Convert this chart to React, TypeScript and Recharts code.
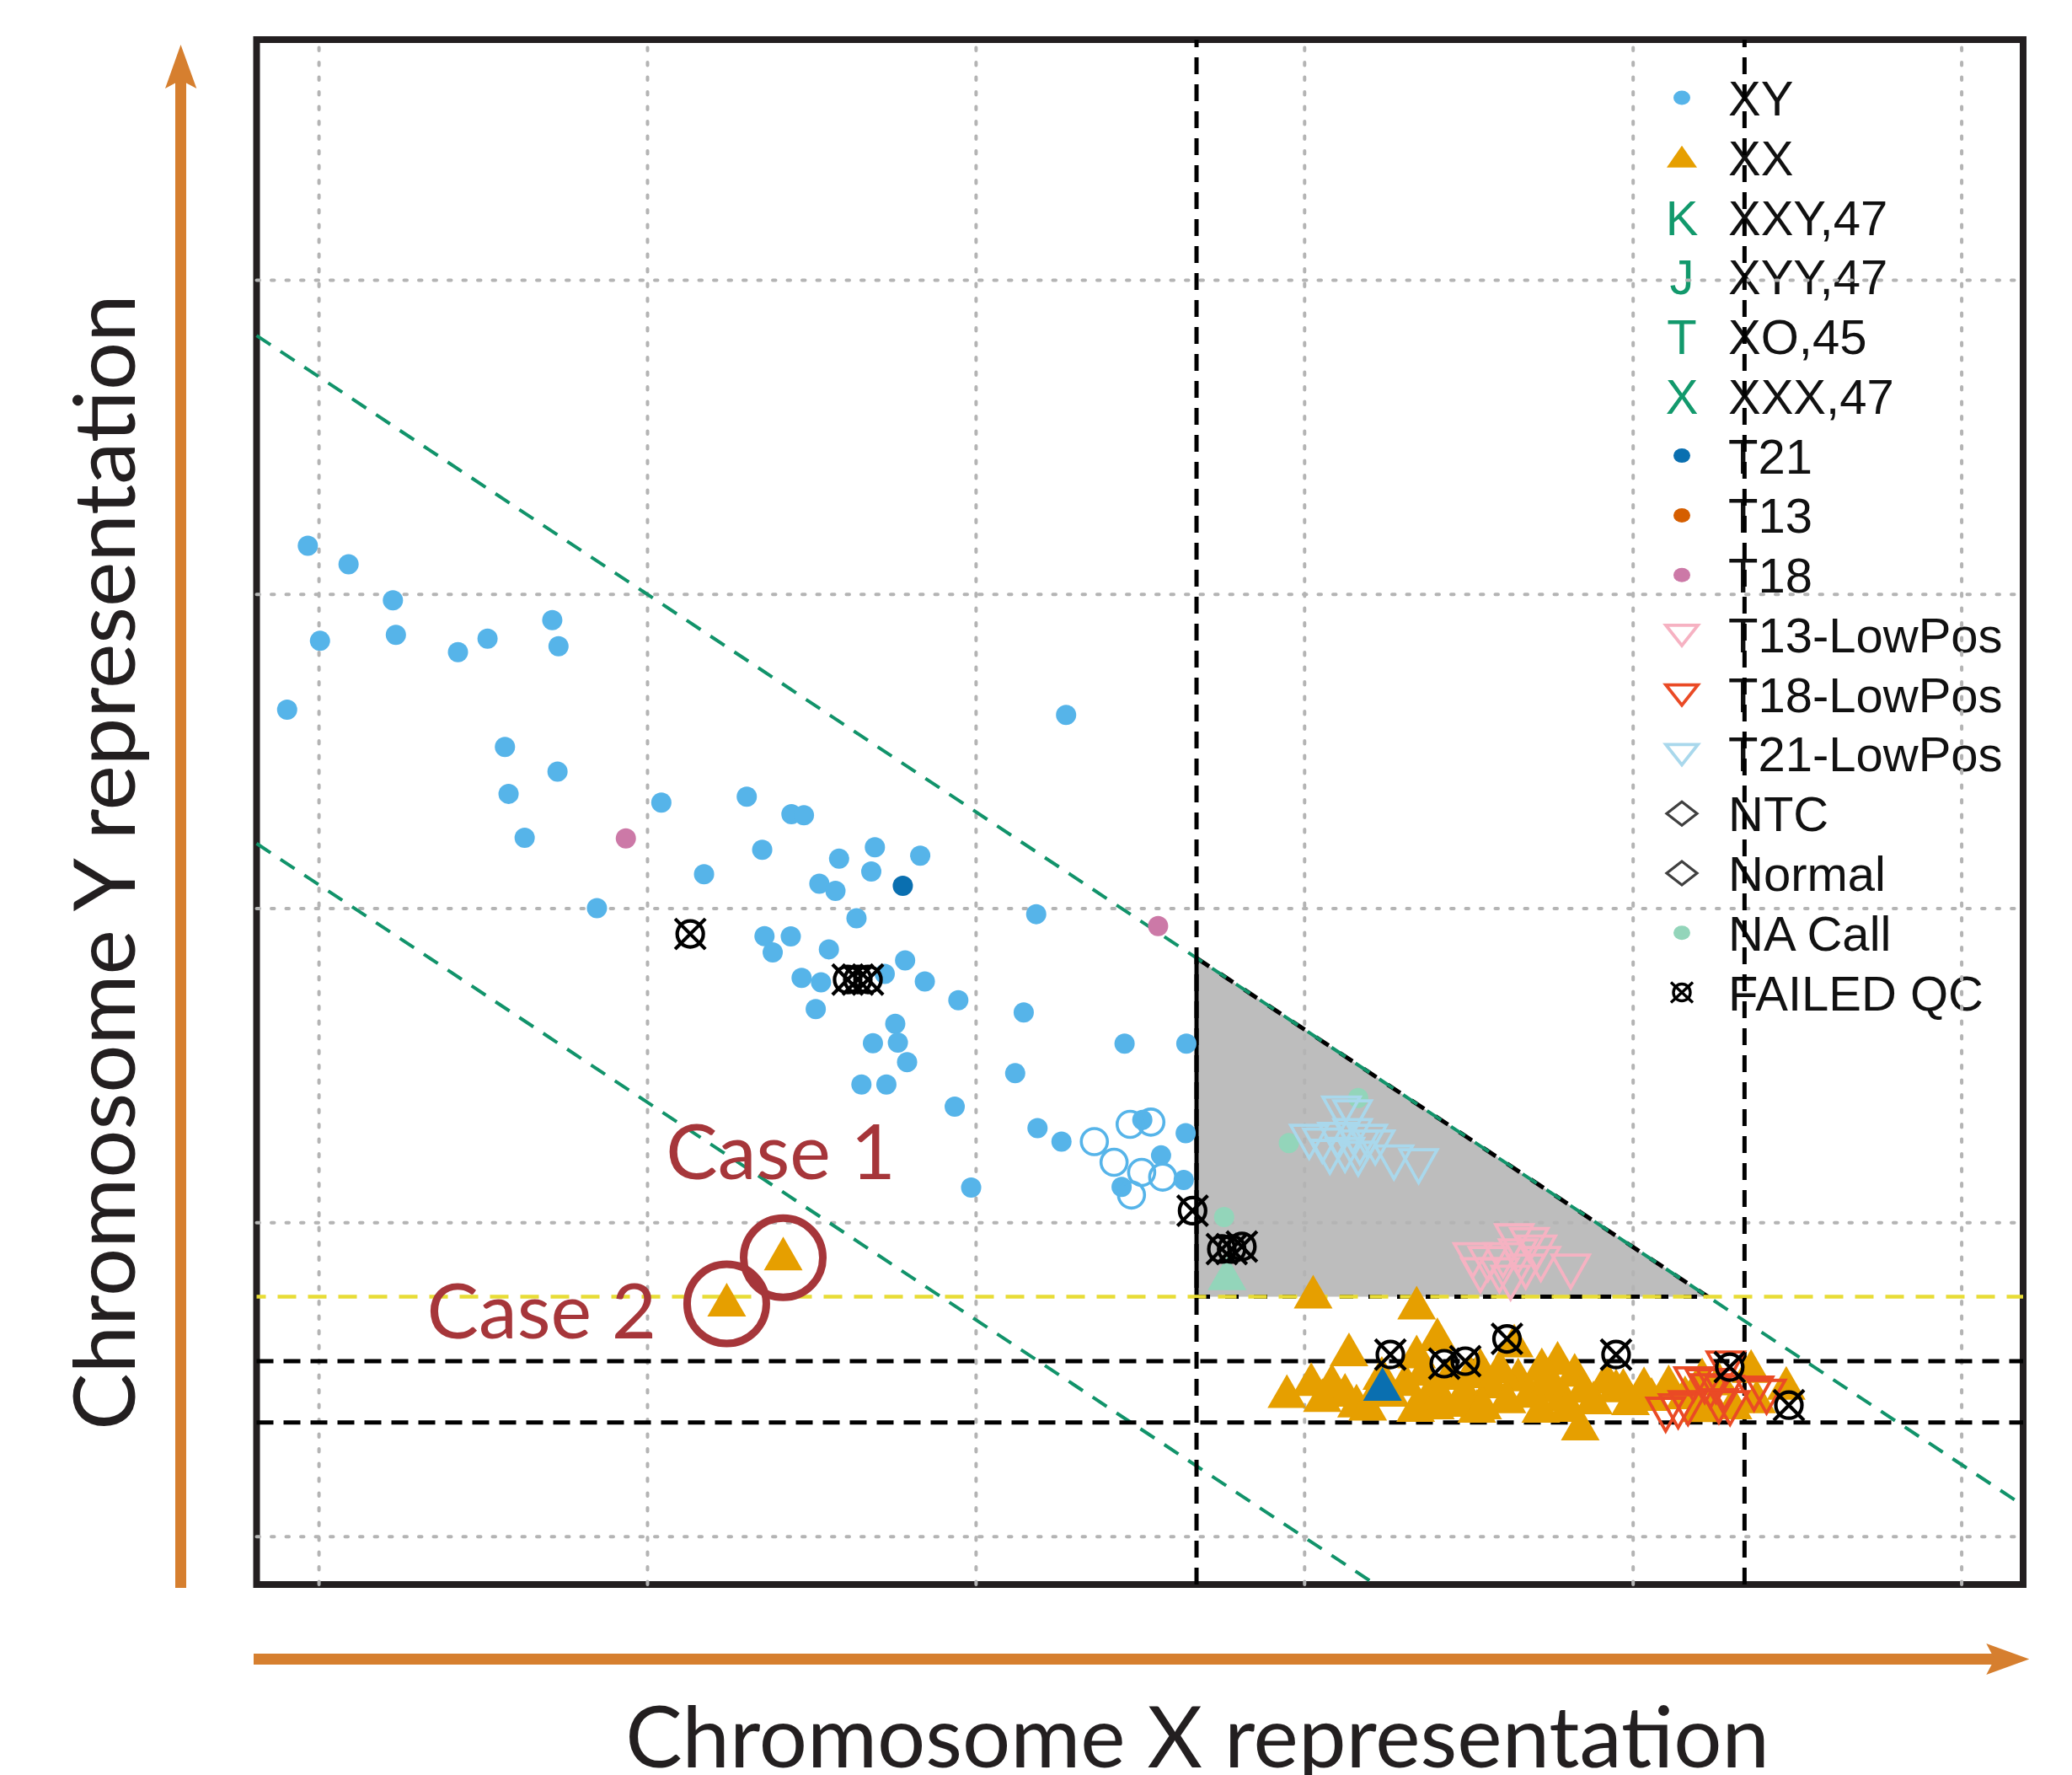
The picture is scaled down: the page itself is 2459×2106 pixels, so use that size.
import React from "react";
import {
  ScatterChart,
  Scatter,
  XAxis,
  YAxis,
  ReferenceLine,
  ReferenceArea,
} from "recharts";

const WIDTH = 2459;
const HEIGHT = 2106;
const MARGIN = { top: 47, right: 58, bottom: 226, left: 304.5 };

// axis units: grid lines sit on whole numbers
const xDomain: [number, number] = [0.81, 6.187];
const yDomain: [number, number] = [0.848, 5.766];
const xTicks = [1, 2, 3, 4, 5, 6];
const yTicks = [1, 2, 3, 4, 5];

// classification cut-offs
const chrXCut = 3.671;
const chrXUpper = 5.339;
const chrYCut = 1.764;
const xxBand = [1.559, 1.364];
const diagonalIntercepts = [5.385, 3.768];
const diagonalSlope = -0.6926;

type Pt = [number, number];

const xy: Pt[] = [
  [0.966, 4.155], [1.09, 4.096], [1.225, 3.981], [1.003, 3.852], [1.234, 3.871],
  [1.423, 3.816], [1.513, 3.859], [1.71, 3.918], [1.729, 3.835], [0.903, 3.633],
  [1.566, 3.514], [1.726, 3.436], [1.577, 3.365], [1.626, 3.225], [2.042, 3.337],
  [2.302, 3.356], [2.438, 3.3], [2.476, 3.297], [2.349, 3.187], [2.583, 3.159],
  [2.692, 3.195], [2.681, 3.118], [2.172, 3.109], [2.523, 3.079], [2.572, 3.056],
  [1.846, 3.001], [2.636, 2.969], [2.356, 2.912], [2.436, 2.911], [2.381, 2.86],
  [2.552, 2.87], [2.469, 2.779], [2.528, 2.765], [2.512, 2.68], [2.686, 2.571],
  [2.651, 2.44], [2.83, 3.168], [3.183, 2.982], [2.722, 2.792], [2.784, 2.835],
  [2.844, 2.768], [2.946, 2.708], [3.145, 2.669], [2.754, 2.633], [2.762, 2.573],
  [2.79, 2.511], [2.727, 2.44], [3.119, 2.476], [2.935, 2.369], [3.452, 2.57],
  [3.64, 2.57], [3.187, 2.301], [3.26, 2.258], [3.638, 2.285], [3.506, 2.327],
  [3.563, 2.214], [3.632, 2.136], [3.443, 2.114], [2.985, 2.112], [3.274, 3.616],
];

const xyOpen: Pt[] = [
  [3.469, 2.313], [3.532, 2.32], [3.36, 2.258], [3.42, 2.192], [3.504, 2.16],
  [3.568, 2.145], [3.473, 2.088],
];

const t21: Pt[] = [[2.777, 3.072]];
const t18: Pt[] = [[1.934, 3.223], [3.554, 2.944]];
const t21Female: Pt[] = [[4.237, 1.484]];
const naCall: Pt[] = [[3.755, 2.018], [4.163, 2.397], [3.952, 2.253]];
const naCallFemale: Pt[] = [[3.764, 1.836]];

const t21Low: Pt[] = [
  [4.112, 2.349], [4.146, 2.337], [4.014, 2.259], [4.054, 2.247], [4.1, 2.265],
  [4.146, 2.277], [4.192, 2.259], [4.123, 2.217], [4.163, 2.205], [4.215, 2.241],
  [4.272, 2.193], [4.347, 2.181], [4.077, 2.211], [4.168, 2.241],
];

const t13Low: Pt[] = [
  [4.638, 1.942], [4.684, 1.93], [4.512, 1.882], [4.558, 1.87], [4.604, 1.882],
  [4.65, 1.894], [4.707, 1.906], [4.535, 1.834], [4.593, 1.834], [4.627, 1.81],
  [4.673, 1.846], [4.719, 1.87], [4.81, 1.846],
];

const t18Low: Pt[] = [
  [5.099, 1.39], [5.137, 1.401], [5.167, 1.411], [5.184, 1.487], [5.218, 1.481],
  [5.252, 1.481], [5.282, 1.537], [5.278, 1.46], [5.235, 1.465], [5.295, 1.411],
  [5.406, 1.447], [5.261, 1.417], [5.368, 1.457],
];

const xx: Pt[] = [
  [4.026, 1.778], [4.341, 1.743], [4.404, 1.642], [4.135, 1.594], [3.946, 1.461],
  [4.02, 1.499], [4.083, 1.496], [4.123, 1.465], [4.158, 1.431], [4.192, 1.421],
  [4.054, 1.448], [4.341, 1.587], [4.307, 1.499], [4.375, 1.452], [4.421, 1.445],
  [4.49, 1.465], [4.535, 1.545], [4.57, 1.492], [4.638, 1.622], [4.65, 1.514],
  [4.616, 1.444], [4.719, 1.479], [4.77, 1.567], [4.822, 1.529], [4.787, 1.452],
  [4.839, 1.358], [4.919, 1.507], [4.879, 1.441], [5.033, 1.486], [5.108, 1.492],
  [4.684, 1.462], [4.466, 1.433], [4.398, 1.425], [4.261, 1.465], [4.719, 1.414],
  [4.524, 1.414], [4.948, 1.479], [5.158, 1.457], [5.21, 1.514], [5.261, 1.501],
  [5.359, 1.541], [5.376, 1.444], [5.466, 1.487], [5.201, 1.416], [5.244, 1.425],
  [5.304, 1.425], [4.97, 1.481], [4.235, 1.519], [4.44, 1.519], [4.504, 1.524],
  [4.594, 1.54], [4.748, 1.506], [4.85, 1.478], [4.542, 1.425], [4.338, 1.417],
  [4.799, 1.417], [4.992, 1.438], [5.056, 1.452], [4.722, 1.546], [4.362, 1.532],
];

const failedQc: Pt[] = [
  [2.13, 2.919], [2.609, 2.774], [2.64, 2.774], [2.671, 2.774], [3.659, 2.038],
  [3.748, 1.916], [3.778, 1.916], [3.809, 1.924], [4.261, 1.58], [4.616, 1.63],
  [4.948, 1.58], [4.425, 1.551], [4.489, 1.559], [5.294, 1.54], [5.474, 1.419],
];

const cases: Pt[] = [[2.413, 1.899], [2.241, 1.752]];
const caseLabels = [
  { text: "Case 1", x: 2.755, y: 2.138 },
  { text: "Case 2", x: 2.027, y: 1.631 },
];

const legendLabels = [
  "XY", "XX", "XXY,47", "XYY,47", "XO,45", "XXX,47", "T21", "T13", "T18",
  "T13-LowPos", "T18-LowPos", "T21-LowPos", "NTC", "Normal", "NA Call", "FAILED QC",
];

const C = {
  xy: "#56B4E9",
  xx: "#E69F00",
  sca: "#12996c",
  t21: "#0a6fb0",
  t13: "#D55E00",
  t18: "#CC79A7",
  t13Low: "#F6B2C2",
  t18Low: "#EA4A25",
  t21Low: "#A9D8EC",
  ntc: "#404040",
  na: "#93D5BA",
  failed: "#000000",
  caseRed: "#a6363a",
  arrow: "#d67f2f",
  frame: "#231f20",
  grid: "#b4b4b4",
  green: "#11936a",
  yellow: "#e8dc36",
  tri: "#bdbdbd",
};

const pts = (a: Pt[]) => a.map(([x, y]) => ({ x, y }));

const dotShape = (color: string, r = 12) => (p: any) =>
  <circle cx={p.cx} cy={p.cy} r={r} fill={color} />;

const ringShape = (color: string) => (p: any) =>
  <circle cx={p.cx} cy={p.cy} r={15.5} fill="none" stroke={color} strokeWidth={3.6} />;

const upTri = (cx: number, cy: number, color: string) => (
  <path d={`M${cx},${cy - 21} L${cx + 23},${cy + 19} L${cx - 23},${cy + 19} Z`} fill={color} />
);

const upShape = (color: string) => (p: any) => upTri(p.cx, p.cy, color);

const downShape = (color: string) => (p: any) => (
  <path
    d={`M${p.cx - 22},${p.cy - 19} L${p.cx + 22},${p.cy - 19} L${p.cx},${p.cy + 20} Z`}
    fill="none"
    stroke={color}
    strokeWidth={3.8}
  />
);

const failedShape = (p: any) => (
  <g transform={`translate(${p.cx},${p.cy})`} stroke={C.failed} strokeWidth={4.2} fill="none">
    <circle r={15.5} />
    <path d="M-18,-18 L18,18 M18,-18 L-18,18" />
  </g>
);

const caseShape = (p: any) => (
  <g>
    {upTri(p.cx, p.cy, C.xx)}
    <circle cx={p.cx} cy={p.cy + 4} r={47} fill="none" stroke={C.caseRed} strokeWidth={9} />
  </g>
);

const caseLabelShape = (p: any) => (
  <text
    x={p.cx}
    y={p.cy}
    textAnchor="end"
    fontFamily="Lato, 'Open Sans', sans-serif"
    fontSize={92}
    fill={C.caseRed}
  >
    {p.payload.text}
  </text>
);

function diagSegment(b: number) {
  const f = (x: number) => b + diagonalSlope * x;
  let x0 = xDomain[0];
  let y0 = f(x0);
  if (y0 > yDomain[1]) {
    y0 = yDomain[1];
    x0 = (y0 - b) / diagonalSlope;
  }
  let x1 = xDomain[1];
  let y1 = f(x1);
  if (y1 < yDomain[0]) {
    y1 = yDomain[0];
    x1 = (y1 - b) / diagonalSlope;
  }
  return [{ x: x0, y: y0 }, { x: x1, y: y1 }];
}

const triTop = diagonalIntercepts[0] + diagonalSlope * chrXCut;
const triRight = (chrYCut - diagonalIntercepts[0]) / diagonalSlope;

function LegendMarker({ kind, letter, color, y }: any) {
  const x = 1996;
  if (kind === "dot") return <ellipse cx={x} cy={y} rx={10} ry={8.5} fill={color} />;
  if (kind === "up")
    return <path d={`M${x},${y - 14} L${x + 18},${y + 12} L${x - 18},${y + 12} Z`} fill={color} />;
  if (kind === "down")
    return (
      <path
        d={`M${x - 19},${y - 11} L${x + 19},${y - 11} L${x},${y + 13} Z`}
        fill="none"
        stroke={color}
        strokeWidth={3.8}
      />
    );
  if (kind === "diamond")
    return (
      <path
        d={`M${x},${y - 14} L${x + 18},${y} L${x},${y + 14} L${x - 18},${y} Z`}
        fill="none"
        stroke={color}
        strokeWidth={3.2}
      />
    );
  if (kind === "failed")
    return (
      <g transform={`translate(${x},${y})`} stroke="#000" strokeWidth={3.4} fill="none">
        <circle r={10} />
        <path d="M-13,-12 L13,12 M13,-12 L-13,12" />
      </g>
    );
  return (
    <text
      x={x}
      y={y + 21}
      textAnchor="middle"
      fontFamily="'Liberation Sans', Arial, sans-serif"
      fontSize={58}
      fill={color}
    >
      {letter}
    </text>
  );
}

const legendMarkers = [
  { kind: "dot", color: C.xy },
  { kind: "up", color: C.xx },
  { kind: "letter", letter: "K", color: C.sca },
  { kind: "letter", letter: "J", color: C.sca },
  { kind: "letter", letter: "T", color: C.sca },
  { kind: "letter", letter: "X", color: C.sca },
  { kind: "dot", color: C.t21 },
  { kind: "dot", color: C.t13 },
  { kind: "dot", color: C.t18 },
  { kind: "down", color: C.t13Low },
  { kind: "down", color: C.t18Low },
  { kind: "down", color: C.t21Low },
  { kind: "diamond", color: C.ntc },
  { kind: "diamond", color: C.ntc },
  { kind: "dot", color: C.na },
  { kind: "failed", color: C.failed },
];

function Decorations() {
  const titleFont = "Lato, 'Open Sans', sans-serif";
  return (
    <svg width={WIDTH} height={HEIGHT} style={{ position: "absolute", left: 0, top: 0 }}>
      <g fill={C.arrow}>
        <rect x={208} y={94} width={13} height={1790} />
        <path d="M214.5,53 L233.3,105 L214.5,95 L196,105 Z" />
        <rect x={301} y={1962} width={2067} height={13} />
        <path d="M2408.3,1968.5 L2357.3,1950 L2367,1968.5 L2357.3,1987 Z" />
      </g>
      <text
        transform="translate(160,1023) rotate(-90)"
        textAnchor="middle"
        fontFamily={titleFont}
        fontSize={101}
        fill="#231f20"
      >
        Chromosome Y representation
      </text>
      <text x={1421} y={2097} textAnchor="middle" fontFamily={titleFont} fontSize={101} fill="#231f20">
        Chromosome X representation
      </text>
      {legendLabels.map((label, i) => {
        const y = 116 + 70.77 * i;
        return (
          <g key={label}>
            <LegendMarker {...legendMarkers[i]} y={y} />
            <text
              x={2051}
              y={y + 21}
              fontFamily="'Liberation Sans', Arial, sans-serif"
              fontSize={58}
              fill="#111"
            >
              {label}
            </text>
          </g>
        );
      })}
    </svg>
  );
}

export default function App() {
  const gridStyle = {
    stroke: C.grid,
    strokeWidth: 4,
    strokeDasharray: "3.5 14",
    strokeLinecap: "round" as const,
  };
  const cutStyle = { stroke: "#000", strokeWidth: 5, strokeDasharray: "20 12" };
  return (
    <div style={{ position: "absolute", left: 0, top: 0, width: WIDTH, height: HEIGHT, background: "#fff" }}>
      <Decorations />
      <div style={{ position: "absolute", left: 0, top: 0 }}>
        <ScatterChart width={WIDTH} height={HEIGHT} margin={MARGIN}>
          <XAxis
            type="number"
            dataKey="x"
            domain={xDomain}
            ticks={xTicks}
            allowDataOverflow
            axisLine={false}
            tickLine={false}
            tick={false}
            height={0}
          />
          <YAxis
            type="number"
            dataKey="y"
            domain={yDomain}
            ticks={yTicks}
            allowDataOverflow
            axisLine={false}
            tickLine={false}
            tick={false}
            width={0}
          />

          {xTicks.map((t) => (
            <ReferenceLine key={`gx${t}`} x={t} {...gridStyle} />
          ))}
          {yTicks.map((t) => (
            <ReferenceLine key={`gy${t}`} y={t} {...gridStyle} />
          ))}

          <ReferenceArea
            x1={chrXCut}
            x2={triRight}
            y1={chrYCut}
            y2={triTop}
            ifOverflow="visible"
            shape={(p: any) => (
              <path
                d={`M${p.x},${p.y} L${p.x},${p.y + p.height} L${p.x + p.width},${p.y + p.height} Z`}
                fill={C.tri}
              />
            )}
          />
          <ReferenceLine
            segment={[{ x: chrXCut, y: chrYCut }, { x: chrXCut, y: triTop }]}
            ifOverflow="visible"
            stroke="#000"
            strokeWidth={5}
          />
          <ReferenceLine
            segment={[{ x: chrXCut, y: triTop }, { x: triRight, y: chrYCut }]}
            ifOverflow="visible"
            stroke="#000"
            strokeWidth={5}
            strokeDasharray="18 16"
          />
          {diagonalIntercepts.map((b) => (
            <ReferenceLine
              key={b}
              segment={diagSegment(b)}
              ifOverflow="visible"
              stroke={C.green}
              strokeWidth={4}
              strokeDasharray="20 14"
            />
          ))}
          {xxBand.map((y) => (
            <ReferenceLine key={y} y={y} {...cutStyle} />
          ))}
          <ReferenceLine
            segment={[{ x: chrXCut, y: chrYCut }, { x: triRight, y: chrYCut }]}
            ifOverflow="visible"
            stroke="#000"
            strokeWidth={5}
            strokeDasharray="16 18"
          />
          <ReferenceLine y={chrYCut} stroke={C.yellow} strokeWidth={4.5} strokeDasharray="22 14" strokeDashoffset={11} />

          <Scatter data={pts(xy)} shape={dotShape(C.xy)} isAnimationActive={false} />
          <Scatter data={pts(xyOpen)} shape={ringShape(C.xy)} isAnimationActive={false} />
          <Scatter data={pts(t21)} shape={dotShape(C.t21)} isAnimationActive={false} />
          <Scatter data={pts(t18)} shape={dotShape(C.t18)} isAnimationActive={false} />
          <Scatter data={pts(naCall)} shape={dotShape(C.na)} isAnimationActive={false} />
          <Scatter data={pts(naCallFemale)} shape={upShape(C.na)} isAnimationActive={false} />
          <Scatter data={pts(t21Low)} shape={downShape(C.t21Low)} isAnimationActive={false} />
          <Scatter data={pts(t13Low)} shape={downShape(C.t13Low)} isAnimationActive={false} />
          <Scatter data={pts(xx)} shape={upShape(C.xx)} isAnimationActive={false} />
          <Scatter data={pts(t21Female)} shape={upShape(C.t21)} isAnimationActive={false} />
          <Scatter data={pts(t18Low)} shape={downShape(C.t18Low)} isAnimationActive={false} />
          <Scatter data={pts(failedQc)} shape={failedShape} isAnimationActive={false} />
          <Scatter data={pts(cases)} shape={caseShape} isAnimationActive={false} />
          <Scatter data={caseLabels} shape={caseLabelShape} isAnimationActive={false} />

          <ReferenceLine x={chrXCut} {...cutStyle} />
          <ReferenceLine x={chrXUpper} {...cutStyle} />
          <ReferenceArea
            x1={xDomain[0]}
            x2={xDomain[1]}
            y1={yDomain[0]}
            y2={yDomain[1]}
            ifOverflow="visible"
            fill="none"
            fillOpacity={0}
            stroke={C.frame}
            strokeWidth={8}
          />
        </ScatterChart>
      </div>
    </div>
  );
}
